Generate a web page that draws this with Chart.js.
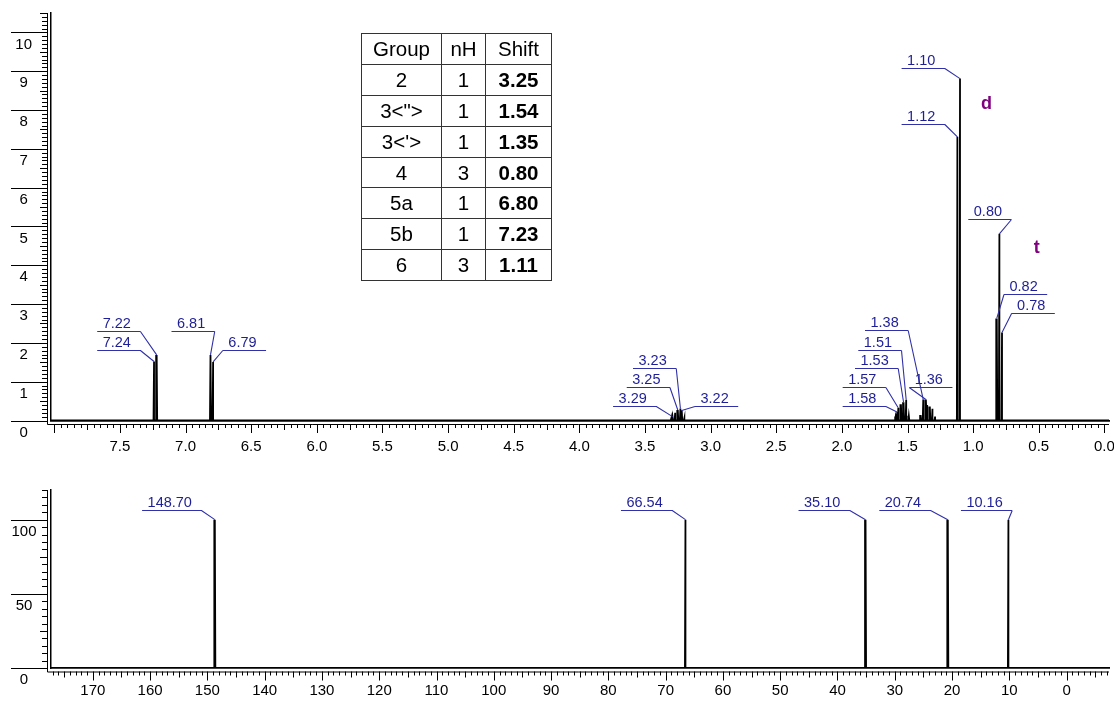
<!DOCTYPE html>
<html>
<head>
<meta charset="utf-8">
<script src="https://cdn.jsdelivr.net/npm/chart.js@4.4.1/dist/chart.umd.min.js"></script>
<style>
  html, body { margin: 0; padding: 0; background: #fff; }
  #wrap { position: relative; width: 1114px; height: 701px; overflow: hidden; background: #fff; }
  #wrap canvas { position: absolute; left: 0; }
  #hCanvas { top: 0; }
  #cCanvas { top: 460px; }
  #groups { position: absolute; left: 361px; top: 33px; width: 190px; table-layout: fixed;
    border-collapse: collapse; font-family: "Liberation Sans", Arial, sans-serif; font-size: 20.5px; color: #000; }
  #groups td { border: 1px solid #333; padding: 0; text-align: center; height: 29.9px; line-height: 20px; }
  #groups td.sh { font-weight: bold; }
  #groups tr:first-child td.sh { font-weight: normal; }
</style>
</head>
<body>
<div id="wrap">
  <canvas id="hCanvas" width="1114" height="460"></canvas>
  <canvas id="cCanvas" width="1114" height="241"></canvas>
  <table id="groups">
    <colgroup><col style="width:80px"><col style="width:44px"><col style="width:66px"></colgroup>
    <tbody></tbody>
  </table>
</div>
<script>
// 1H spectrum (ppm / intensity)
const hShift     = [7.24, 7.22, 6.81, 6.79, 3.30, 3.29, 3.27, 3.25, 3.23, 3.22, 3.20,
                    1.59, 1.58, 1.57, 1.55, 1.53, 1.51, 1.49,
                    1.40, 1.38, 1.36, 1.35, 1.33, 1.31, 1.29,
                    1.12, 1.10, 0.82, 0.80, 0.78];
const hIntensity = [1.52, 1.69, 1.69, 1.51, 0.05, 0.10, 0.20, 0.27, 0.31, 0.26, 0.06,
                    0.10, 0.22, 0.32, 0.42, 0.47, 0.53, 0.12,
                    0.14, 0.54, 0.54, 0.40, 0.36, 0.30, 0.10,
                    7.31, 8.81, 2.63, 4.81, 2.27];
const hPeakLabels = ['7.22', '7.24', '6.81', '6.79', '3.23', '3.25', '3.29', '3.22',
                     '1.38', '1.51', '1.53', '1.57', '1.58', '1.36', '1.10', '1.12',
                     '0.80', '0.82', '0.78'];
const hAxisTicks = [7.5, 7.0, 6.5, 6.0, 5.5, 5.0, 4.5, 4.0, 3.5, 3.0, 2.5, 2.0, 1.5, 1.0, 0.5, 0.0];
const hIntTicks  = [0, 1, 2, 3, 4, 5, 6, 7, 8, 9, 10];
const multText   = ['d', 't'];

// 13C spectrum
const cShift     = [148.70, 66.54, 35.10, 20.74, 10.16];
const cIntensity = [100, 100, 100, 100, 100];
const cPeakLabels = ['148.70', '66.54', '35.10', '20.74', '10.16'];
const cAxisTicks = [170, 160, 150, 140, 130, 120, 110, 100, 90, 80, 70, 60, 50, 40, 30, 20, 10, 0];
const cIntTicks  = [0, 50, 100];

// assignment table
const groupName  = ['2', '3<">', "3<'>", '4', '5a', '5b', '6'];
const groupNH    = [1, 1, 1, 3, 1, 1, 3];
const groupShift = ['3.25', '1.54', '1.35', '0.80', '6.80', '7.23', '1.11'];

// label placement: [line start (ppm), line level (intensity), which end joins the peak]
const hLabelAt = [[7.673, 2.31, 'R'], [7.673, 1.82, 'R'], [7.107, 2.31, 'R'], [6.716, 1.82, 'L'],
                  [3.591, 1.35, 'R'], [3.639, 0.87, 'R'], [3.743, 0.37, 'R'], [3.119, 0.37, 'L'],
                  [1.824, 2.32, 'R'], [1.875, 1.82, 'R'], [1.900, 1.35, 'R'], [1.994, 0.86, 'R'],
                  [1.994, 0.37, 'R'], [1.487, 0.86, 'L'], [1.545, 9.09, 'R'], [1.545, 7.63, 'R'],
                  [1.037, 5.20, 'R'], [0.765, 3.27, 'L'], [0.707, 2.78, 'L']];
const multAt   = [[0.899, 8.15], [0.516, 4.45]];
const cLabelAt = [[161.4, 106.5, 'R'], [77.8, 106.5, 'R'], [46.8, 106.5, 'R'], [32.7, 106.5, 'R'], [18.45, 106.5, 'R']];

const FONT = '"Liberation Sans", Arial, sans-serif';
const LABEL_BLUE = '#1e1e96';

// table
const tbody = document.querySelector('#groups tbody');
const head = document.createElement('tr');
['Group', 'nH', 'Shift'].forEach((t, i) => {
  const td = document.createElement('td'); td.textContent = t; if (i === 2) td.className = 'sh'; head.appendChild(td);
});
tbody.appendChild(head);
groupName.forEach((g, i) => {
  const tr = document.createElement('tr');
  [g, groupNH[i], groupShift[i]].forEach((t, j) => {
    const td = document.createElement('td'); td.textContent = t; if (j === 2) td.className = 'sh'; tr.appendChild(td);
  });
  tbody.appendChild(tr);
});

// line spectrum from peak lists
function sticks(shifts, heights, lo, hi, w) {
  const idx = shifts.map((s, i) => i).sort((a, b) => shifts[a] - shifts[b]);
  const pts = [{ x: lo, y: 0 }];
  idx.forEach(i => {
    pts.push({ x: shifts[i] - w, y: 0 }, { x: shifts[i], y: heights[i] }, { x: shifts[i] + w, y: 0 });
  });
  pts.push({ x: hi, y: 0 });
  return pts;
}

function isMult(v, step) { const r = v / step; return Math.abs(r - Math.round(r)) < 1e-6; }

function noPad(s) { s.paddingLeft = 0; s.paddingRight = 0; s.paddingTop = 0; s.paddingBottom = 0; }

function axisMarks(o) {
  return {
    id: 'axisMarks',
    afterDraw(chart) {
      const { ctx, chartArea: a, scales: { x, y } } = chart;
      const ox = a.left - 4, oy = a.bottom + 3.5;
      ctx.save();
      ctx.strokeStyle = '#000';
      ctx.lineWidth = 1;
      ctx.beginPath();
      ctx.moveTo(ox + 0.5, a.top); ctx.lineTo(ox + 0.5, oy + 0.5); ctx.lineTo(a.right, oy + 0.5);
      for (let i = 0; i * o.yStep <= y.max + 1e-9; i++) {
        const v = i * o.yStep, py = Math.round(y.getPixelForValue(v)) + 0.5;
        const len = isMult(v, o.yMajor) ? ox - 11 : (isMult(v, o.yMid) ? 7 : 5);
        ctx.moveTo(ox - len, py); ctx.lineTo(ox, py);
      }
      for (let i = Math.ceil(x.min / o.xStep); i * o.xStep <= x.max + 1e-9; i++) {
        const v = i * o.xStep, px = Math.round(x.getPixelForValue(v)) + 0.5;
        if (px < ox) continue;
        const len = isMult(v, o.xMajor) ? 9 : (isMult(v, o.xMid) ? 6 : 4);
        ctx.moveTo(px, oy); ctx.lineTo(px, oy + len);
      }
      ctx.stroke();
      ctx.restore();
    }
  };
}

function peakLabels(texts, shifts, heights, layout, extra) {
  return {
    id: 'peakLabels',
    afterDatasetsDraw(chart) {
      const { ctx, scales: { x, y } } = chart;
      ctx.save();
      ctx.font = '14.5px ' + FONT;
      ctx.lineWidth = 1.1;
      ctx.strokeStyle = '#3030a8';
      ctx.fillStyle = LABEL_BLUE;
      texts.forEach((t, i) => {
        const [p0, lv, side] = layout[i];
        const s = parseFloat(t);
        const k = shifts.findIndex(v => Math.abs(v - s) < 1e-6);
        const px = x.getPixelForValue(s), py = y.getPixelForValue(heights[k]);
        const x1 = x.getPixelForValue(p0), ly = Math.round(y.getPixelForValue(lv)) + 0.5;
        const x2 = x1 + ctx.measureText(t).width + 15;
        const ex = side === 'R' ? x2 : x1;
        ctx.beginPath();
        ctx.moveTo(x1, ly); ctx.lineTo(x2, ly);
        ctx.moveTo(ex, ly); ctx.lineTo(px, py);
        ctx.stroke();
        ctx.textAlign = 'left';
        ctx.textBaseline = 'alphabetic';
        ctx.fillText(t, x1 + 5.5, ly - 3.5);
      });
      if (extra) {
        ctx.font = 'bold 18px ' + FONT;
        ctx.fillStyle = '#800080';
        ctx.textAlign = 'center';
        ctx.textBaseline = 'middle';
        extra.text.forEach((t, i) => {
          ctx.fillText(t, x.getPixelForValue(extra.at[i][0]), y.getPixelForValue(extra.at[i][1]));
        });
      }
      ctx.restore();
    }
  };
}

function spectrum(canvas, cfg) {
  return new Chart(canvas.getContext('2d'), {
    type: 'line',
    data: {
      datasets: [{
        data: cfg.points,
        borderColor: '#000',
        borderWidth: 1.8,
        pointRadius: 0,
        tension: 0,
        fill: false
      }]
    },
    options: {
      responsive: false,
      animation: false,
      devicePixelRatio: 1,
      layout: { padding: { top: cfg.top, right: 5, left: 0, bottom: 0 } },
      plugins: { legend: { display: false }, tooltip: { enabled: false } },
      scales: {
        x: {
          type: 'linear',
          reverse: true,
          min: cfg.xMin,
          max: cfg.xMax,
          afterFit: s => { s.height = cfg.xHeight; noPad(s); },
          afterBuildTicks: s => { s.ticks = cfg.xTicks.map(v => ({ value: v })); },
          grid: { display: false, drawTicks: false },
          border: { display: true, color: '#000', width: 1.8 },
          ticks: {
            color: '#000', font: { family: FONT, size: 15 }, padding: cfg.xPad,
            maxRotation: 0, autoSkip: false, callback: cfg.xFmt
          }
        },
        y: {
          type: 'linear',
          min: 0,
          max: cfg.yMax,
          afterFit: s => { s.width = 51; noPad(s); },
          afterBuildTicks: s => { s.ticks = cfg.yTicks.map(v => ({ value: v })); },
          grid: { display: false, drawTicks: false },
          border: { display: true, color: '#000', width: 1.5 },
          ticks: {
            color: '#000', font: { family: FONT, size: 15 }, padding: cfg.yPad,
            crossAlign: 'center', labelOffset: 12, autoSkip: false
          }
        }
      }
    },
    plugins: cfg.plugins
  });
}

spectrum(document.getElementById('hCanvas'), {
  points: sticks(hShift, hIntensity, -0.035, 8.025, 0.004),
  top: 13, xMin: -0.035, xMax: 8.025, xHeight: 39.5, xPad: 17,
  xTicks: hAxisTicks, xFmt: v => Number(v).toFixed(1),
  yMax: 10.5, yTicks: hIntTicks, yPad: 19,
  plugins: [axisMarks({ yStep: 0.1, yMajor: 1, yMid: 0.5, xStep: 0.05, xMajor: 0.5, xMid: 0.25 }),
            peakLabels(hPeakLabels, hShift, hIntensity, hLabelAt, { text: multText, at: multAt })]
});

spectrum(document.getElementById('cCanvas'), {
  points: sticks(cShift, cIntensity, -7.4, 177.3, 0.09),
  top: 30, xMin: -7.4, xMax: 177.3, xHeight: 33, xPad: 14,
  xTicks: cAxisTicks, xFmt: v => String(v),
  yMax: 120, yTicks: cIntTicks, yPad: 14.5,
  plugins: [axisMarks({ yStep: 5, yMajor: 50, yMid: 25, xStep: 1, xMajor: 10, xMid: 5 }),
            peakLabels(cPeakLabels, cShift, cIntensity, cLabelAt, null)]
});
</script>
</body>
</html>
